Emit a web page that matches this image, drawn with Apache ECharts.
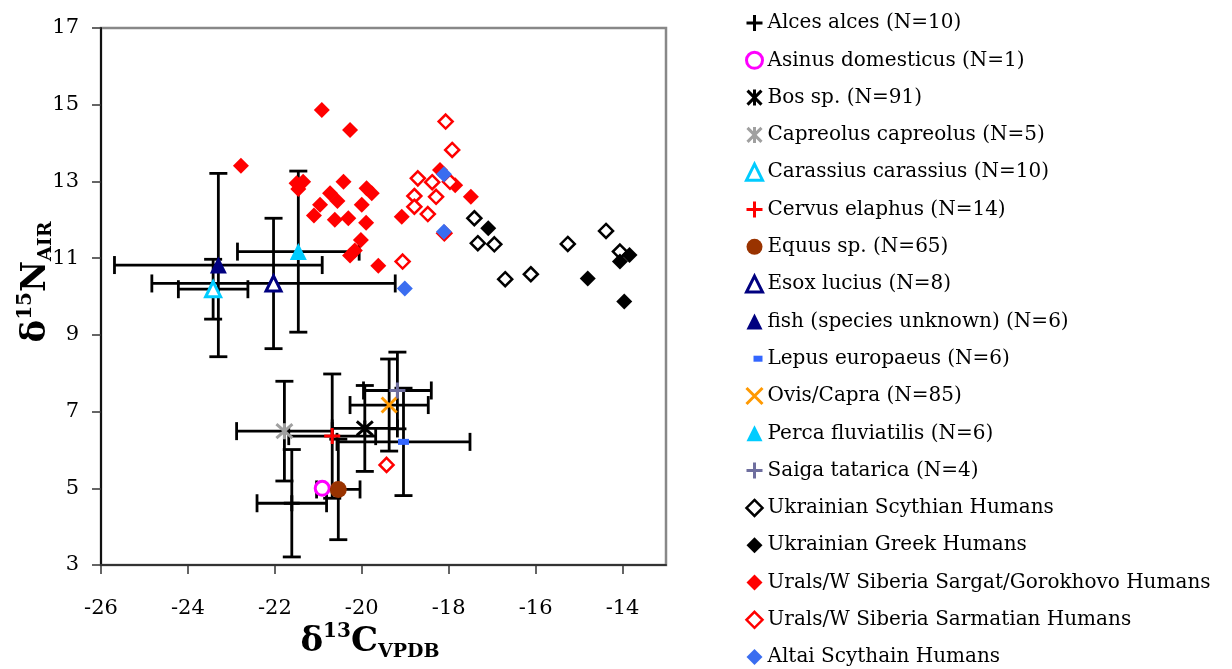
<!DOCTYPE html>
<html><head><meta charset="utf-8">
<script src="https://cdn.jsdelivr.net/npm/echarts@6/dist/echarts.min.js"></script>
<style>html,body{margin:0;padding:0;background:#fff}#c{width:1232px;height:669px}</style>
</head><body><div id="c"></div><script>
// ---- data ----
const speciesNames = ['Alces alces (N=10)','Asinus domesticus (N=1)','Bos sp. (N=91)','Capreolus capreolus (N=5)',
  'Carassius carassius (N=10)','Cervus elaphus (N=14)','Equus sp. (N=65)','Esox lucius (N=8)',
  'fish (species unknown) (N=6)','Lepus europaeus (N=6)','Ovis/Capra (N=85)','Perca fluviatilis (N=6)','Saiga tatarica (N=4)'];
const meanC = [-21.61,-20.91,-19.93,-21.78,-23.42,-20.68,-20.54,-22.03,-23.30,-19.04,-19.37,-21.46,-19.18];
const meanN = [4.61,5.00,6.56,6.49,10.19,6.36,4.97,10.34,10.82,6.21,7.17,11.17,7.55];
const sdC = [0.80,0,0.75,1.10,0.80,1.00,0.50,2.80,2.39,1.53,0.90,1.40,0.78];
const sdN = [1.40,0,1.12,1.30,0.78,1.62,1.31,1.70,2.39,1.40,1.20,2.10,1.00];

const humanNames = ['Ukrainian Scythian Humans','Ukrainian Greek Humans','Urals/W Siberia Sargat/Gorokhovo Humans',
  'Urals/W Siberia Sarmatian Humans','Altai Scythain Humans'];
const ukrScythC = [-17.41,-17.33,-16.95,-16.70,-16.11,-15.26,-14.38,-14.06];
const ukrScythN = [12.04,11.39,11.36,10.45,10.58,11.37,11.71,11.17];
const ukrGreekC = [-17.09,-14.80,-14.06,-13.84,-13.96];
const ukrGreekN = [11.78,10.47,10.91,11.08,9.87];
const sargatC = [-22.78,-20.92,-20.27,-21.50,-21.35,-21.46,-20.42,-20.73,-20.56,-20.96,-21.10,-20.62,-20.31,
  -19.89,-19.77,-20.00,-19.90,-20.02,-20.16,-20.27,-19.62,-19.08,-17.49,-17.85,-18.20];
const sargatN = [13.41,14.86,14.34,12.95,12.99,12.80,12.99,12.69,12.49,12.39,12.11,12.00,12.04,
  12.82,12.69,12.39,11.92,11.47,11.20,11.07,10.80,12.08,12.60,12.90,13.30];
const sarmatC = [-18.07,-17.92,-18.71,-18.38,-17.97,-18.79,-18.29,-18.79,-18.48,-19.06,-19.43,-18.10];
const sarmatN = [14.56,13.82,13.08,12.98,12.99,12.62,12.60,12.34,12.15,10.91,5.61,11.65];
const altaiC = [-18.11,-18.11,-19.01];
const altaiN = [13.19,11.69,10.21];

const xTicks = [-26,-24,-22,-20,-18,-16,-14];
const yTicks = [3,5,7,9,11,13,15,17];

// ---- styles ----
const PLUS = 'path://M0,8L16,8M8,0L8,16';
const CROSS = 'path://M0,0L16,16M16,0L0,16';
const AST = 'path://M1,1L15,15M15,1L1,15M8,0L8,16';
const speciesStyle = [
  {symbol: PLUS, size: 16, fill: 'transparent', stroke: '#000', bw: 3},
  {symbol: 'circle', size: 14, fill: '#fff', stroke: '#ff00ff', bw: 3},
  {symbol: AST, size: 16, fill: 'transparent', stroke: '#000', bw: 3},
  {symbol: AST, size: 16, fill: 'transparent', stroke: '#a0a0a0', bw: 3},
  {symbol: 'triangle', size: 15, fill: '#fff', stroke: '#00ccff', bw: 3},
  {symbol: PLUS, size: 16, fill: 'transparent', stroke: '#ff0000', bw: 3},
  {symbol: 'circle', size: 17, fill: '#993300', stroke: '#993300', bw: 0},
  {symbol: 'triangle', size: 15, fill: '#fff', stroke: '#000080', bw: 3},
  {symbol: 'triangle', size: 17, fill: '#000080', stroke: '#000080', bw: 0},
  {symbol: 'rect', size: [11, 6], fill: '#3366ff', stroke: '#3366ff', bw: 0},
  {symbol: CROSS, size: 15, fill: 'transparent', stroke: '#ff9900', bw: 3},
  {symbol: 'triangle', size: 17, fill: '#00ccff', stroke: '#00ccff', bw: 0},
  {symbol: PLUS, size: 16, fill: 'transparent', stroke: '#6f6f9f', bw: 3}
];
const humanData = [[ukrScythC, ukrScythN],[ukrGreekC, ukrGreekN],[sargatC, sargatN],[sarmatC, sarmatN],[altaiC, altaiN]];
const humanStyle = [
  {fill: '#fff', stroke: '#000', bw: 2.5, size: 14},
  {fill: '#000', stroke: '#000', bw: 0, size: 16},
  {fill: '#ff0000', stroke: '#ff0000', bw: 0, size: 16},
  {fill: '#fff', stroke: '#ff0000', bw: 2.5, size: 14},
  {fill: '#3a6df0', stroke: '#3a6df0', bw: 0, size: 16}
];
const FONT = 'DejaVu Serif';

const series = [];
series.push({
  type: 'custom', name: 'errorbars', z: 2,
  data: speciesNames.map((n, i) => [meanC[i], meanN[i], sdC[i], sdN[i]]),
  encode: {x: 0, y: 1},
  renderItem: function (params, api) {
    const x = api.value(0), y = api.value(1), xs = api.value(2), ys = api.value(3);
    if (!xs && !ys) return null;
    const l = api.coord([x - xs, y]), r = api.coord([x + xs, y]);
    const t = api.coord([x, y + ys]), b = api.coord([x, y - ys]);
    const cap = 9;
    const st = {stroke: '#000', lineWidth: 2.8};
    const ln = (x1, y1, x2, y2) => ({type: 'line', shape: {x1, y1, x2, y2}, style: st});
    return {type: 'group', children: [
      ln(l[0], l[1], r[0], r[1]), ln(t[0], t[1], b[0], b[1]),
      ln(l[0], l[1] - cap, l[0], l[1] + cap), ln(r[0], r[1] - cap, r[0], r[1] + cap),
      ln(t[0] - cap, t[1], t[0] + cap, t[1]), ln(b[0] - cap, b[1], b[0] + cap, b[1])
    ]};
  }
});
speciesNames.forEach((n, i) => {
  const s = speciesStyle[i];
  series.push({
    type: 'scatter', name: n, z: 3, symbol: s.symbol, symbolSize: s.size,
    itemStyle: {color: s.fill, borderColor: s.stroke, borderWidth: s.bw, opacity: 1},
    data: [[meanC[i], meanN[i]]]
  });
});
humanNames.forEach((n, i) => {
  const s = humanStyle[i];
  const d = humanData[i];
  series.push({
    type: 'scatter', name: n, z: 4, symbol: 'diamond', symbolSize: s.size,
    itemStyle: {color: s.fill, borderColor: s.stroke, borderWidth: s.bw, opacity: 1},
    data: d[0].map((c, k) => [c, d[1][k]])
  });
});

const legendData = speciesNames.map((n, i) => {
  const s = speciesStyle[i];
  const item = {name: n, itemStyle: {borderWidth: s.bw}};
  if (n === 'Lepus europaeus (N=6)') item.icon = 'path://M0,0M16,16M7,5L16,5L16,11L7,11Z';
  return item;
}).concat(humanNames.map((n, i) => ({name: n, itemStyle: {borderWidth: humanStyle[i].bw}})));

const chart = echarts.init(document.getElementById('c'));
chart.setOption({
  animation: false,
  backgroundColor: '#fff',
  grid: {left: 101, top: 28, width: 565, height: 537, show: true, borderColor: '#888', borderWidth: 2.5, containLabel: false},
  legend: {
    orient: 'vertical', left: 745, top: 13, height: 656, padding: 0, itemWidth: 16, itemHeight: 16, itemGap: 17.3,
    textStyle: {fontFamily: FONT, fontSize: 20, color: '#000', lineHeight: 20},
    data: legendData
  },
  xAxis: {
    type: 'value', min: -26, max: -13, interval: 1,
    axisLine: {show: true, onZero: false, lineStyle: {color: '#333', width: 2}},
    axisTick: {show: true, inside: false, length: 9, lineStyle: {color: '#333', width: 1.5}, customValues: xTicks},
    axisLabel: {fontFamily: FONT, fontSize: 21, color: '#000', margin: 33, customValues: xTicks},
    splitLine: {show: false},
    name: '{d|δ}{sup|13}{b|C}{sub|VPDB}', nameLocation: 'middle', nameGap: 57, nameMoveOverlap: false,
    nameTextStyle: {padding: [0, 27, 0, 0], rich: {
      d: {fontFamily: FONT, fontSize: 34, fontWeight: 'bold', lineHeight: 40, color: '#000'},
      sup: {fontFamily: FONT, fontSize: 20, fontWeight: 'bold', verticalAlign: 'top', lineHeight: 20, color: '#000'},
      b: {fontFamily: FONT, fontSize: 34, fontWeight: 'bold', lineHeight: 40, color: '#000'},
      sub: {fontFamily: FONT, fontSize: 19, fontWeight: 'bold', verticalAlign: 'bottom', lineHeight: 20, color: '#000'}
    }}
  },
  yAxis: {
    type: 'value', min: 3, max: 17, interval: 1,
    axisLine: {show: true, onZero: false, lineStyle: {color: '#111', width: 2}},
    axisTick: {show: true, inside: false, length: 9, lineStyle: {color: '#333', width: 1.5}, customValues: yTicks},
    axisLabel: {fontFamily: FONT, fontSize: 21, color: '#000', margin: 22, customValues: yTicks},
    splitLine: {show: false},
    name: '{d|δ}{sup|15}{b|N}{sub|AIR}', nameLocation: 'middle', nameGap: 45, nameRotate: 90, nameMoveOverlap: false,
    nameTextStyle: {padding: [0, 0, 0, 29], rich: {
      d: {fontFamily: FONT, fontSize: 34, fontWeight: 'bold', lineHeight: 40, color: '#000'},
      sup: {fontFamily: FONT, fontSize: 20, fontWeight: 'bold', verticalAlign: 'top', lineHeight: 20, color: '#000'},
      b: {fontFamily: FONT, fontSize: 34, fontWeight: 'bold', lineHeight: 40, color: '#000'},
      sub: {fontFamily: FONT, fontSize: 19, fontWeight: 'bold', verticalAlign: 'bottom', lineHeight: 20, color: '#000'}
    }}
  },
  series: series
});
</script></body></html>
